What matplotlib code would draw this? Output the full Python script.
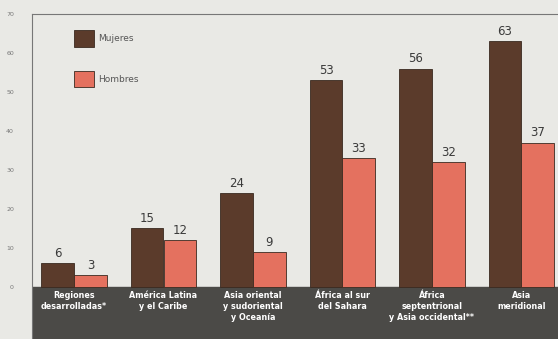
import matplotlib
matplotlib.use("Agg")
import matplotlib.pyplot as plt
import numpy as np

regiones = ["Regiones\ndesarrolladas*", "América Latina\ny el Caribe",
            "Asia oriental\ny sudoriental\ny Oceanía", "África al sur\ndel Sahara",
            "África\nseptentrional\ny Asia occidental**", "Asia\nmeridional"]
mujeres = [6, 15, 24, 53, 56, 63]
hombres = [3, 12, 9, 33, 32, 37]

c_muj = "#5b3b2b"
c_hom = "#e4715f"
fondo = "#e9e9e5"
banda = "#4b4a47"

fig = plt.figure(figsize=(5.58, 3.39), dpi=100)
fig.patch.set_facecolor(fondo)
ax = fig.add_axes([32 / 558, 0, 1 - 32 / 558, 1 - 14 / 339])
ax.set_facecolor(fondo)

x = np.arange(len(regiones))
w = 0.365
b1 = ax.bar(x - w / 2, mujeres, w, color=c_muj, edgecolor="#3a2a20", linewidth=0.6, label="Mujeres")
b2 = ax.bar(x + w / 2, hombres, w, color=c_hom, edgecolor="#3a2a20", linewidth=0.6, label="Hombres")

for rect, v in list(zip(b1, mujeres)) + list(zip(b2, hombres)):
    ax.text(rect.get_x() + rect.get_width() / 2, v + 0.8, str(v), ha="center", va="bottom",
            fontsize=8.5, color="#3a3a3a")

ymin = -13.4
ax.axhspan(ymin, 0, color=banda, zorder=0.5)
for xi, lab in zip(x, regiones):
    ax.text(xi, -1.2, lab, ha="center", va="top", fontsize=5.8, color="white",
            fontweight="bold", linespacing=1.25)

ax.set_xlim(-0.47, 5.41)
ax.set_ylim(ymin, 70)
ax.set_yticks(range(0, 71, 10))
ax.set_yticklabels([str(v) for v in range(0, 71, 10)], fontsize=4.5, color="#777777")
ax.tick_params(axis="y", length=0, pad=13)
ax.set_xticks([])
for s in ["right", "bottom"]:
    ax.spines[s].set_visible(False)
ax.spines["left"].set_color("#777777")
ax.spines["top"].set_color("#777777")

leg = ax.legend(loc="upper left", bbox_to_anchor=(0.065, 0.975), frameon=False, fontsize=6.5,
                handlelength=2.2, handleheight=2.5, labelspacing=2.6, handletextpad=0.4)
for t in leg.get_texts():
    t.set_color("#555555")

fig.savefig("out.png", dpi=100, facecolor=fondo)
